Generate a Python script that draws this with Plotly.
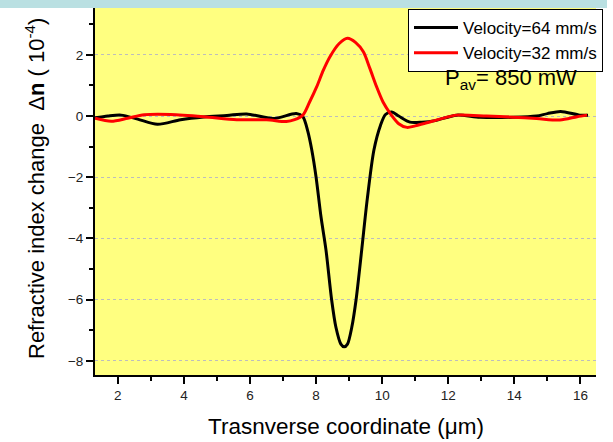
import plotly.graph_objects as go

# ---- data ----
x_64 = [1.31, 1.7, 2.1, 2.6, 3.2, 3.9, 4.6, 5.3, 5.9, 6.7, 7.4, 7.6, 7.75, 7.87, 8.0, 8.15,
        8.3, 8.47, 8.6, 8.75, 8.85, 8.95, 9.08, 9.21, 9.38, 9.55, 9.75, 9.95, 10.1, 10.29,
        10.5, 10.84, 11.2, 11.6, 12.25, 12.96, 13.96, 14.67, 15.0, 15.4, 15.98, 16.23]
y_64 = [-0.06, 0.0, 0.03, -0.1, -0.27, -0.12, -0.03, 0.02, 0.07, -0.08, 0.08, -0.02, -0.5,
        -1.11, -2.0, -3.3, -4.38, -6.0, -6.9, -7.45, -7.54, -7.45, -6.9, -6.0, -4.38, -2.7,
        -1.11, -0.3, 0.05, 0.13, 0.0, -0.2, -0.2, -0.15, 0.03, -0.04, -0.04, 0.0, 0.08, 0.15,
        0.03, 0.03]

x_32 = [1.31, 1.8, 2.3, 2.8, 3.6, 4.6, 5.6, 6.5, 7.1, 7.35, 7.6, 7.8, 8.02, 8.22, 8.42, 8.7,
        8.95, 9.2, 9.43, 9.63, 9.83, 10.03, 10.24, 10.5, 10.75, 11.0, 11.35, 11.75, 12.25,
        13.16, 13.96, 14.67, 15.38, 15.9, 16.2]
y_32 = [-0.07, -0.17, -0.07, 0.04, 0.05, -0.02, -0.12, -0.12, -0.18, -0.12, 0.03, 0.45, 0.96,
        1.5, 1.94, 2.37, 2.54, 2.4, 2.1, 1.55, 0.96, 0.45, 0.09, -0.25, -0.37, -0.32, -0.22,
        -0.1, 0.03, 0.0, -0.04, -0.08, -0.13, -0.02, 0.03]

series_names = ["Velocity=64 mm/s", "Velocity=32 mm/s"]
x_ticks = [2, 4, 6, 8, 10, 12, 14, 16]
y_ticks = [-8, -6, -4, -2, 0, 2]

W, H = 613, 442
L, R, T, B = 95, 17, 8, 67
pw, ph = W - L - R, H - T - B

fig = go.Figure()
fig.add_trace(go.Scatter(x=x_64, y=y_64, mode="lines", name=series_names[0],
                         line=dict(color="black", width=3, shape="spline", smoothing=0.8)))
fig.add_trace(go.Scatter(x=x_32, y=y_32, mode="lines", name=series_names[1],
                         line=dict(color="#FF0000", width=3, shape="spline", smoothing=0.8)))

font_family = "Liberation Sans, Arial, sans-serif"

fig.update_layout(
    width=W, height=H,
    margin=dict(l=L, r=R, t=T, b=B, pad=0),
    paper_bgcolor="white",
    plot_bgcolor="#FFFF80",
    font=dict(family=font_family, color="black"),
    showlegend=True,
    legend=dict(x=(408 - L) / pw, y=(H - B - 9) / ph, xanchor="left", yanchor="top",
                bgcolor="white", bordercolor="black", borderwidth=1,
                font=dict(size=17, family=font_family, color="black"),
                itemwidth=44, tracegroupgap=0),
    xaxis=dict(range=[1.31, 16.47], tickvals=x_ticks, ticks="outside", ticklen=7, tickwidth=1.5,
               tickcolor="black", showline=True, linecolor="black", linewidth=2,
               showgrid=False, zeroline=False, mirror=False,
               tickfont=dict(size=13.5, color="#222"),
               minor=dict(tickvals=[3, 5, 7, 9, 11, 13, 15], ticks="outside", ticklen=4,
                          tickwidth=1.5, tickcolor="black", showgrid=False)),
    yaxis=dict(range=[-8.46, 3.53], tickvals=y_ticks, ticks="outside", ticklen=7, tickwidth=1.5,
               tickcolor="black", showline=True, linecolor="black", linewidth=2,
               showgrid=True, gridcolor="#BDBDBD", griddash="dot", gridwidth=1,
               zeroline=False, mirror=False,
               tickfont=dict(size=13.5, color="#222"),
               minor=dict(tickvals=[-7, -5, -3, -1, 1, 3], ticks="outside", ticklen=4,
                          tickwidth=1.5, tickcolor="black", showgrid=False)),
    shapes=[dict(type="rect", xref="paper", yref="paper", layer="below",
                 x0=-L / pw, x1=(607 - L) / pw, y0=1.0, y1=1.0 + T / ph,
                 fillcolor="#BAE0E2", line=dict(width=0))],
    annotations=[
        dict(xref="paper", yref="paper", x=(35 - L) / pw, y=(H - B - 189) / ph,
             text="Refractive index change  Δ<b>n</b> ( 10<sup>-4</sup>)",
             textangle=-90, showarrow=False, xanchor="center", yanchor="middle",
             font=dict(size=22, family=font_family, color="black")),
        dict(xref="paper", yref="paper", x=0.5, y=(H - B - 426) / ph,
             text="Trasnverse coordinate (μm)", showarrow=False,
             xanchor="center", yanchor="middle",
             font=dict(size=22.5, family=font_family, color="black")),
        dict(xref="paper", yref="paper", x=(511 - L) / pw, y=(H - B - 79) / ph,
             text="P<sub>av</sub>= 850 mW", showarrow=False,
             xanchor="center", yanchor="middle",
             font=dict(size=22, family=font_family, color="black")),
    ],
)

fig.write_html("out.html", config={"displayModeBar": False},
               post_script="document.body.style.margin='0px';")
